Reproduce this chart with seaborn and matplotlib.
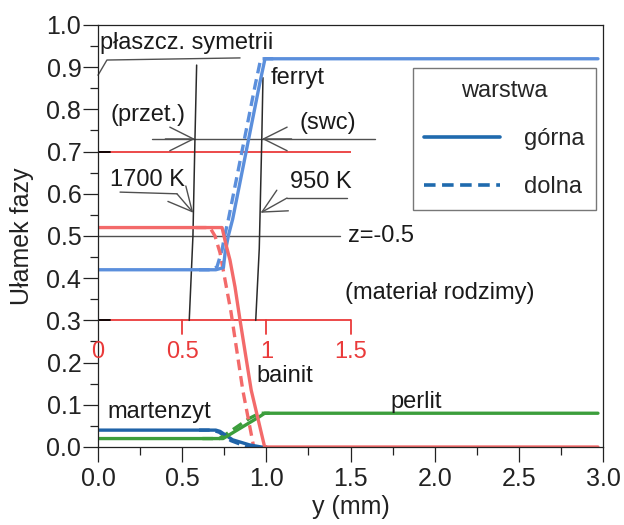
import matplotlib
matplotlib.use("Agg")
import matplotlib.pyplot as plt
import seaborn as sns
import pandas as pd
from matplotlib.lines import Line2D
from matplotlib.ticker import MultipleLocator, FormatStrFormatter

# ---------------- data ----------------
ferryt_gorna_x = [0.0, 0.70, 0.745, 0.755, 0.774, 0.80, 0.88, 0.96, 0.992, 2.97]
ferryt_gorna_y = [0.42, 0.42, 0.425, 0.46, 0.50, 0.54, 0.70, 0.86, 0.92, 0.92]
ferryt_dolna_x = [0.60, 0.68, 0.707, 0.737, 0.752, 0.775, 0.855, 0.935, 0.967, 1.05]
ferryt_dolna_y = [0.42, 0.42, 0.427, 0.467, 0.50, 0.54, 0.70, 0.86, 0.92, 0.92]

bainit_gorna_x = [0.0, 0.737, 0.76, 0.784, 0.814, 0.844, 0.91, 0.99, 2.97]
bainit_gorna_y = [0.52, 0.52, 0.48, 0.443, 0.379, 0.30, 0.135, 0.0, 0.0]
bainit_dolna_x = [0.58, 0.665, 0.695, 0.725, 0.79, 0.86, 0.925, 1.0]
bainit_dolna_y = [0.52, 0.52, 0.50, 0.46, 0.32, 0.135, 0.0, 0.0]

martenzyt_gorna_x = [0.0, 0.70, 0.725, 0.80, 0.90, 0.97, 1.0]
martenzyt_gorna_y = [0.04, 0.04, 0.037, 0.017, 0.005, 0.0, 0.0]
martenzyt_dolna_x = [0.60, 0.68, 0.72, 0.79, 0.89, 0.95]
martenzyt_dolna_y = [0.04, 0.04, 0.035, 0.015, 0.0, 0.0]

perlit_gorna_x = [0.0, 0.743, 0.96, 0.99, 2.97]
perlit_gorna_y = [0.02, 0.02, 0.072, 0.08, 0.08]
perlit_dolna_x = [0.62, 0.72, 0.76, 0.90, 0.96, 1.02]
perlit_dolna_y = [0.02, 0.02, 0.03, 0.068, 0.08, 0.08]

# isotherm lines (1700 K, 950 K)
iso1700_x = [0.542, 0.564, 0.576, 0.586]
iso1700_y = [0.30, 0.50, 0.73, 0.905]
iso950_x = [0.937, 0.958, 0.973, 0.980]
iso950_y = [0.30, 0.47, 0.73, 0.875]

# inset (secondary scale) lines
inset_ticks = [0, 0.5, 1, 1.5]
inset_tick_labels = ["0", "0.5", "1", "1.5"]
inset_levels = [0.3, 0.7]

x_ticks_major = 0.5
y_ticks_major = 0.1

# ---------------- long form table ----------------
rows = []
series = [
    ("ferryt", "górna", ferryt_gorna_x, ferryt_gorna_y),
    ("ferryt", "dolna", ferryt_dolna_x, ferryt_dolna_y),
    ("martenzyt", "górna", martenzyt_gorna_x, martenzyt_gorna_y),
    ("martenzyt", "dolna", martenzyt_dolna_x, martenzyt_dolna_y),
    ("perlit", "górna", perlit_gorna_x, perlit_gorna_y),
    ("perlit", "dolna", perlit_dolna_x, perlit_dolna_y),
    ("bainit", "górna", bainit_gorna_x, bainit_gorna_y),
    ("bainit", "dolna", bainit_dolna_x, bainit_dolna_y),
]
for faza, warstwa, xs, ys in series:
    for xv, yv in zip(xs, ys):
        rows.append({"y_mm": xv, "frac": yv, "faza": faza, "warstwa": warstwa})
df = pd.DataFrame(rows)

sns.set_style("ticks")
plt.rcParams["font.family"] = ["Liberation Sans", "DejaVu Sans"]

fig = plt.figure(figsize=(6.24, 5.25), dpi=100)
ax = fig.add_axes([98 / 624, 1 - 447 / 525, 505 / 624, 422 / 525])

red_axis = "#ea3a3a"
dark = "#2a2a2a"
guide = "#505050"

# inset red axis
for lv in inset_levels:
    ax.plot([inset_ticks[0], inset_ticks[-1]], [lv, lv], color=red_axis, lw=1.3, zorder=1.2,
            solid_capstyle="butt")
    ax.plot([0, 0.07], [lv, lv], color="black", lw=1.3, zorder=1.3)
for t, lab in zip(inset_ticks, inset_tick_labels):
    ax.plot([t, t], [0.30, 0.268], color=red_axis, lw=1.3, zorder=1.2)
    ax.text(t, 0.224, lab, color=red_axis, fontsize=17, ha="center", va="center")

# isotherms and guide lines
ax.plot(iso1700_x, iso1700_y, color=dark, lw=1.1, zorder=1.5)
ax.plot(iso950_x, iso950_y, color=dark, lw=1.1, zorder=1.5)
ax.plot([0.0, 1.44], [0.5, 0.5], color=guide, lw=1.0, zorder=1.4)
ax.plot([0.321, 1.646], [0.73, 0.73], color=guide, lw=1.0, zorder=1.4)

arrow = dict(arrowstyle="->,head_length=1.0,head_width=0.5", color=guide, lw=1.0,
             shrinkA=0, shrinkB=0)
ax.annotate("", xy=(0.576, 0.73), xytext=(0.40, 0.73), arrowprops=arrow, fontsize=17)
ax.annotate("", xy=(0.974, 0.73), xytext=(1.15, 0.73), arrowprops=arrow, fontsize=17)

# leader for 1700 K
ax.plot([0.131, 0.469], [0.604, 0.60], color=guide, lw=1.0)
ax.annotate("", xy=(0.566, 0.555), xytext=(0.469, 0.60), arrowprops=arrow, fontsize=17)
# leader for 950 K
ax.plot([1.479, 1.123], [0.59, 0.59], color=guide, lw=1.0)
ax.annotate("", xy=(0.966, 0.555), xytext=(1.123, 0.59), arrowprops=arrow, fontsize=17)
# leader for symmetry plane
ax.plot([0.844, 0.053, 0.0], [0.922, 0.917, 0.881], color=guide, lw=1.0, clip_on=False)

# phase curves: dashed (dolna) first, solid (górna) on top
palette = {"ferryt": "#5b8fdc", "bainit": "#f36a6a", "martenzyt": "#1f63a8", "perlit": "#3c9e3c"}
hue_order = ["ferryt", "martenzyt", "perlit", "bainit"]
sns.lineplot(data=df[df["warstwa"] == "dolna"], x="y_mm", y="frac", hue="faza",
             estimator=None, sort=False, palette=palette, hue_order=hue_order,
             lw=2.4, legend=False, ax=ax, zorder=2)
for ln in ax.get_lines()[-4:]:
    ln.set_dashes((3.2, 1.8))
sns.lineplot(data=df[df["warstwa"] == "górna"], x="y_mm", y="frac", hue="faza",
             estimator=None, sort=False, palette=palette, hue_order=hue_order,
             lw=2.4, legend=False, ax=ax, zorder=2.1)

# texts
fs = 17
txt = dict(fontsize=fs, color="#1a1a1a", ha="center", va="center")
ax.text(0.529, 0.957, "płaszcz. symetrii", **txt)
ax.text(1.188, 0.874, "ferryt", **txt)
ax.text(0.297, 0.787, "(przet.)", **txt)
ax.text(1.367, 0.768, "(swc)", **txt)
ax.text(0.291, 0.633, "1700 K", **txt)
ax.text(1.325, 0.628, "950 K", **txt)
ax.text(1.485, 0.50, "z=-0.5", fontsize=fs, color="#1a1a1a", ha="left", va="center")
ax.text(2.032, 0.365, "(materiał rodzimy)", **txt)
ax.text(1.11, 0.168, "bainit", **txt)
ax.text(0.362, 0.083, "martenzyt", **txt)
ax.text(1.89, 0.107, "perlit", **txt)

# axes formatting
ax.set_xlim(0, 3.0)
ax.set_ylim(0, 1.0)
ax.xaxis.set_major_locator(MultipleLocator(x_ticks_major))
ax.xaxis.set_minor_locator(MultipleLocator(x_ticks_major / 2))
ax.yaxis.set_major_locator(MultipleLocator(y_ticks_major))
ax.yaxis.set_minor_locator(MultipleLocator(y_ticks_major / 2))
ax.xaxis.set_major_formatter(FormatStrFormatter("%.1f"))
ax.yaxis.set_major_formatter(FormatStrFormatter("%.1f"))
ax.tick_params(axis="both", which="major", direction="out", length=10.5, width=0.9,
               labelsize=18, color="#222222", labelcolor="#222222")
ax.tick_params(axis="both", which="minor", direction="out", length=6, width=0.9, color="#222222")
ax.tick_params(axis="y", which="major", pad=1.5)
ax.tick_params(axis="x", which="major", pad=4)
for sp in ax.spines.values():
    sp.set_visible(True)
    sp.set_linewidth(0.9)
    sp.set_color("#222222")
ax.set_xlabel("y (mm)", fontsize=18, color="#222222", labelpad=3)
ax.set_ylabel("Ułamek fazy", fontsize=18, color="#222222", labelpad=9)

# legend
leg_color = "#1f6aae"
handles = [Line2D([], [], color=leg_color, lw=2.6, ls="-"),
           Line2D([], [], color=leg_color, lw=2.6, dashes=(3.2, 1.8))]
leg = ax.legend(handles, ["górna", "dolna"], title="warstwa", loc="upper right",
                bbox_to_anchor=(0.986, 0.898), fontsize=17, title_fontsize=17,
                frameon=True, fancybox=False, edgecolor="#777777", framealpha=1,
                handlelength=3.2, handletextpad=1.0, labelspacing=1.1, borderpad=0.5,
                borderaxespad=0)
leg.get_frame().set_linewidth(1.0)

fig.savefig("out.png", dpi=100)
